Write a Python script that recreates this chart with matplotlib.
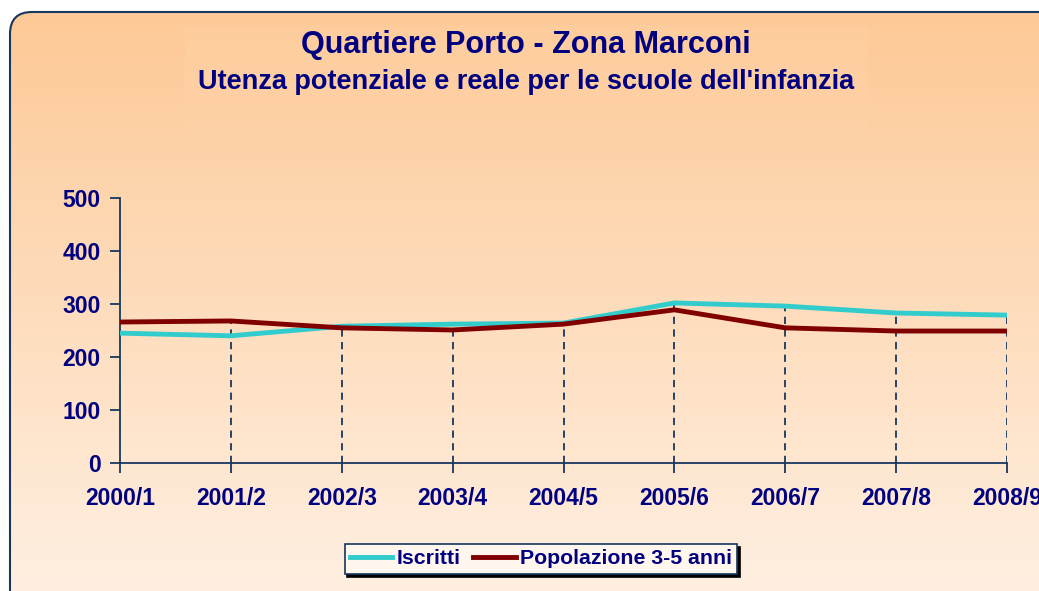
import numpy as np
import matplotlib.pyplot as plt
from matplotlib.patches import FancyBboxPatch, Rectangle

# dati
anni = ["2000/1", "2001/2", "2002/3", "2003/4", "2004/5",
        "2005/6", "2006/7", "2007/8", "2008/9"]
iscritti = [245, 240, 258, 262, 264, 302, 296, 283, 279]
popolazione = [266, 268, 255, 251, 262, 289, 255, 249, 249]

navy = "#000080"
bordo = "#17375E"

fig = plt.figure(figsize=(10.39, 5.91), dpi=100)
W, H = 1039, 591

# sfondo sfumato con cornice arrotondata
bg = fig.add_axes([0, 0, 1, 1])
bg.set_xlim(0, W)
bg.set_ylim(H, 0)
bg.axis("off")
grad = np.linspace(0, 1, 256).reshape(-1, 1)
top = np.array([253, 201, 150]) / 255
bot = np.array([255, 243, 232]) / 255
img = top + (bot - top) * grad[..., None]
frame = FancyBboxPatch((10, 12), W + 40, H + 40,
                       boxstyle="round,pad=0,rounding_size=22",
                       facecolor="none", edgecolor=bordo, linewidth=1.5)
bg.add_patch(frame)
im = bg.imshow(img, extent=(10, W + 50, H + 50, 12), aspect="auto", zorder=0)
im.set_clip_path(frame)
bg.add_patch(Rectangle((185, 25), 683, 115, facecolor="#FFD3A8",
                       edgecolor="none", alpha=0.4, zorder=1))

fig.text(526 / W, 1 - 45 / H, "Quartiere Porto - Zona Marconi",
         ha="center", va="center", fontsize=22, fontweight="bold",
         color=navy, family="Liberation Sans")
fig.text(526 / W, 1 - 82 / H,
         "Utenza potenziale e reale per le scuole dell'infanzia",
         ha="center", va="center", fontsize=19.5, fontweight="bold",
         color=navy, family="Liberation Sans")

# grafico
ax = fig.add_axes([120 / W, 1 - 463 / H, 887 / W, 265 / H])
ax.patch.set_alpha(0)
x = np.arange(len(anni))
ax.vlines(x[1:], 0, np.maximum(iscritti, popolazione)[1:], colors=bordo,
          linestyles=(0, (4, 3)), linewidth=1.3, zorder=1)
l1, = ax.plot(x, iscritti, color="#33CCCC", linewidth=3.5, label="Iscritti", zorder=3)
l2, = ax.plot(x, popolazione, color="#800000", linewidth=3.5,
              label="Popolazione 3-5 anni", zorder=4)

ax.set_xlim(0, len(anni) - 1)
ax.set_ylim(0, 500)
ax.set_yticks(range(0, 501, 100))
ax.set_xticks(x)
ax.set_xticklabels(anni)
for s in ["top", "right"]:
    ax.spines[s].set_visible(False)
for s in ["left", "bottom"]:
    ax.spines[s].set_color(bordo)
    ax.spines[s].set_linewidth(1.3)
ax.tick_params(colors=bordo, length=7, width=1.3)
ax.tick_params(axis="x", pad=10)
ax.tick_params(axis="y", pad=7)
for lab in ax.get_xticklabels() + ax.get_yticklabels():
    lab.set_color(navy)
    lab.set_fontweight("bold")
    lab.set_fontsize(16.5)
    lab.set_family("Liberation Sans")
ax.get_xticklabels()[-1].set_clip_on(False)

leg = fig.legend(handles=[l1, l2], loc="center", ncol=2,
                 bbox_to_anchor=(541 / W, 1 - 559 / H),
                 frameon=True, fancybox=False, shadow={"color": "black", "alpha": 1},
                 prop={"family": "Liberation Sans", "weight": "bold", "size": 15.3},
                 handlelength=2.0, handletextpad=0.2, columnspacing=0.6,
                 borderpad=0.25, labelcolor=navy)
leg.get_frame().set_edgecolor(bordo)
leg.get_frame().set_facecolor("#FFF6EE")
leg.get_frame().set_linewidth(1.2)

fig.savefig("out.png", dpi=100)
